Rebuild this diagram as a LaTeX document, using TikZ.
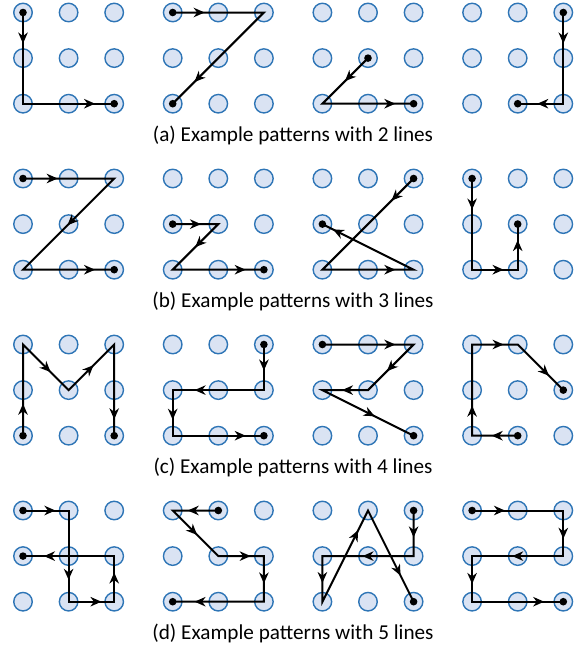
\documentclass[tikz,border=0pt]{standalone}
\usepackage{fontspec}
\setmainfont{Carlito}
\usetikzlibrary{arrows.meta}
\definecolor{ringblue}{RGB}{46,117,182}
\definecolor{dotfill}{RGB}{218,227,243}

\tikzset{heading/.pic={\draw[line width=2pt,-{Stealth[length=11pt,width=9.5pt,inset=3.5pt]}] (-1pt,0) -- (5.5pt,0);}}

\begin{document}
\begin{tikzpicture}[x=1pt,y=-1pt,
          spot/.style={circle,draw=ringblue,fill=dotfill,line width=1.4pt,
                      minimum size=18.5pt,inner sep=0pt},
          stroke/.style={line width=2pt,line join=miter},
          mark/.style={pos=#1,sloped,allow upside down},
          caption/.style={anchor=base,font=\fontsize{21.2}{25}\selectfont}]
        \useasboundingbox (0,0) rectangle (580,651);
        % dot grids
        \foreach \row/\gy in {a/12.5,b/178.5,c/344.5,d/510.5}
          \foreach \col/\gx in {1/23,2/172.7,3/322.4,4/472.1}
            \foreach \c in {0,1,2}
              \foreach \r in {0,1,2}
                \node[spot](\row\col-\c\r) at ({\gx+45.6*\c},{\gy+45.6*\r}){};
        % (a) two lines
        \draw[stroke](a1-00.center) -- pic[mark=.28]{heading} (a1-02.center)
          -- pic[mark=.73]{heading} (a1-22.center);
        \draw[stroke](a2-00.center) -- pic[mark=.29]{heading} (a2-20.center)
          -- pic[mark=.72]{heading} (a2-02.center);
        \draw[stroke](a3-11.center) -- pic[mark=.42]{heading} (a3-02.center)
          -- pic[mark=.74]{heading} (a3-22.center);
        \draw[stroke](a4-20.center) -- pic[mark=.28]{heading} (a4-22.center)
          -- pic[mark=.45]{heading} (a4-12.center);
        % (b) three lines
        \draw[stroke](b1-00.center) -- pic[mark=.32]{heading} (b1-20.center)
          -- pic[mark=.47]{heading} (b1-02.center)
          -- pic[mark=.73]{heading} (b1-22.center);
        \draw[stroke](b2-01.center) -- pic[mark=.5]{heading} (b2-11.center)
          -- pic[mark=.42]{heading} (b2-02.center)
          -- pic[mark=.74]{heading} (b2-22.center);
        \draw[stroke](b3-20.center) -- pic[mark=.2]{heading} (b3-02.center)
          -- pic[mark=.74]{heading} (b3-22.center)
          -- pic[mark=.83]{heading} (b3-01.center);
        \draw[stroke](b4-00.center) -- pic[mark=.28]{heading} (b4-02.center)
          -- pic[mark=.57]{heading} (b4-12.center)
          -- pic[mark=.53]{heading} (b4-11.center);
        % (c) four lines
        \draw[stroke](c1-02.center) -- pic[mark=.29]{heading} (c1-00.center)
          -- pic[mark=.52]{heading} (c1-11.center)
          -- pic[mark=.46]{heading} (c1-20.center)
          -- pic[mark=.76]{heading} (c1-22.center);
        \draw[stroke](c2-20.center) -- pic[mark=.45]{heading} (c2-21.center)
          -- pic[mark=.7]{heading} (c2-01.center)
          -- pic[mark=.53]{heading} (c2-02.center)
          -- pic[mark=.74]{heading} (c2-22.center);
        \draw[stroke](c3-00.center) -- pic[mark=.74]{heading} (c3-20.center)
          -- pic[mark=.5]{heading} (c3-11.center)
          -- pic[mark=.45]{heading} (c3-01.center)
          -- pic[mark=.52]{heading} (c3-22.center);
        \draw[stroke](c4-12.center) -- pic[mark=.45]{heading} (c4-02.center)
          -- pic[mark=.27]{heading} (c4-00.center)
          -- pic[mark=.57]{heading} (c4-10.center)
          -- pic[mark=.6]{heading} (c4-21.center);
        % (d) five lines
        \draw[stroke](d1-00.center) -- pic[mark=.59]{heading} (d1-10.center)
          -- pic[mark=.7]{heading} (d1-12.center)
          -- pic[mark=.6]{heading} (d1-22.center)
          -- pic[mark=.52]{heading} (d1-21.center)
          -- pic[mark=.71]{heading} (d1-01.center);
        \draw[stroke](d2-10.center) -- pic[mark=.55]{heading} (d2-00.center)
          -- pic[mark=.45]{heading} (d2-11.center)
          -- pic[mark=.59]{heading} (d2-21.center)
          -- pic[mark=.48]{heading} (d2-22.center)
          -- pic[mark=.7]{heading} (d2-02.center);
        \draw[stroke](d3-20.center) -- pic[mark=.47]{heading} (d3-21.center)
          -- pic[mark=.5]{heading} (d3-01.center)
          -- pic[mark=.47]{heading} (d3-02.center)
          -- pic[mark=.73]{heading} (d3-10.center)
          -- pic[mark=.66]{heading} (d3-22.center);
        \draw[stroke](d4-00.center) -- pic[mark=.3]{heading} (d4-20.center)
          -- pic[mark=.5]{heading} (d4-21.center)
          -- pic[mark=.5]{heading} (d4-01.center)
          -- pic[mark=.49]{heading} (d4-02.center)
          -- pic[mark=.73]{heading} (d4-22.center);
        % start and end points
        \foreach \p in {a1-00,a1-22,a2-00,a2-02,a3-11,a3-22,a4-20,a4-12,
                        b1-00,b1-22,b2-01,b2-22,b3-20,b3-01,b4-00,b4-11,
                        c1-02,c1-22,c2-20,c2-22,c3-00,c3-22,c4-12,c4-21,
                        d1-00,d1-01,d2-10,d2-02,d3-20,d3-22,d4-00,d4-22}
          \fill (\p.center) circle (3.8);
        % captions
        \node[caption](capa) at (293,141){(a) Example patterns with 2 lines};
        \node[caption](capb) at (293,307){(b) Example patterns with 3 lines};
        \node[caption](capc) at (293,473){(c) Example patterns with 4 lines};
        \node[caption](capd) at (293,639){(d) Example patterns with 5 lines};
      \end{tikzpicture}
\end{document}
